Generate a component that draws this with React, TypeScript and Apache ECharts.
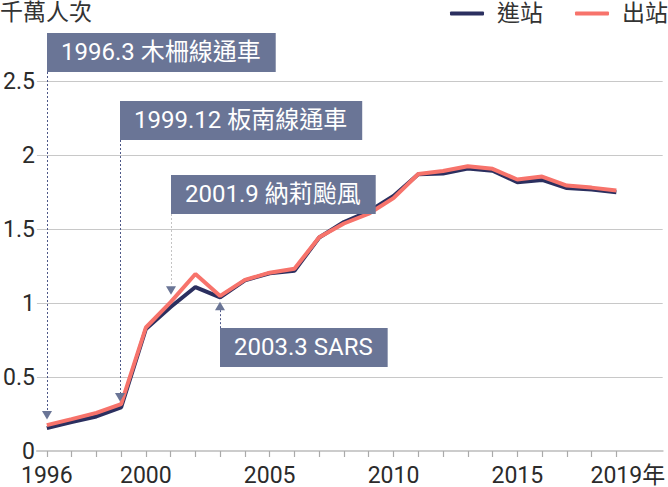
import React, { useEffect, useRef } from "react";
import * as echarts from "echarts";

const years = [1996, 1997, 1998, 1999, 2000, 2001, 2002, 2003, 2004, 2005, 2006, 2007, 2008, 2009, 2010, 2011, 2012, 2013, 2014, 2015, 2016, 2017, 2018, 2019];
const entries = [0.155, 0.196, 0.234, 0.295, 0.826, 0.975, 1.11, 1.04, 1.155, 1.203, 1.22, 1.445, 1.55, 1.622, 1.727, 1.873, 1.878, 1.912, 1.897, 1.82, 1.835, 1.78, 1.77, 1.752];
const exits = [0.175, 0.216, 0.258, 0.318, 0.836, 1.008, 1.198, 1.05, 1.158, 1.207, 1.234, 1.447, 1.54, 1.606, 1.712, 1.875, 1.895, 1.928, 1.91, 1.838, 1.858, 1.797, 1.783, 1.763];
const xLabelYears = [1996, 2000, 2005, 2010, 2015, 2019];
const yTicks = [0, 0.5, 1, 1.5, 2, 2.5];
const seriesNames = ["進站", "出站"];
const titleText = "千萬人次";

// annotation events: year, label, value the marker points at
const eventYears = [1996, 1999, 2001, 2003];
const eventLabels = ["1996.3 木柵線通車", "1999.12 板南線通車", "2001.9 納莉颱風", "2003.3 SARS"];
const eventValues = [0.214, 0.335, 1.058, 1.011];

// layout of annotation boxes (pixels)
const boxTops = [33, 101, 175, 328];
const boxDown = [true, true, true, false];
const dotColors = ["#4d5788", "#4d5788", "#c4c4c4", "#4d5788"];

const FONT = "Roboto, 'Noto Sans CJK TC', sans-serif";
const NAVY = "#2b2f5f";
const ORANGE = "#f7736b";
const BOX = "#6a7596";

export default function App() {
  const ref = useRef<HTMLDivElement>(null);
  useEffect(() => {
    if (!ref.current) return;
    const chart = echarts.init(ref.current, undefined, { renderer: "svg" });
    chart.setOption({
      animation: false,
      textStyle: { fontFamily: FONT },
      title: {
        text: titleText,
        left: 0,
        top: 1,
        padding: 0,
        textStyle: { fontSize: 23, fontWeight: "normal", color: "#333", fontFamily: FONT },
      },
      legend: {
        right: 0,
        top: 2,
        padding: 0,
        itemWidth: 34,
        itemHeight: 4,
        itemGap: 32,
        icon: "roundRect",
        textStyle: { fontSize: 23, color: "#333", padding: [0, 0, 0, 8], fontFamily: FONT },
        data: seriesNames,
      },
      grid: { left: 34, right: 0, top: 81.7, bottom: 32, containLabel: false },
      xAxis: {
        type: "value",
        min: 1995.6,
        max: 2020.87,
        splitLine: { show: false },
        axisLine: { show: true, lineStyle: { color: "#cccccc", width: 2 } },
        axisTick: { show: true, length: 6, lineStyle: { color: "#aaaaaa", width: 1.2 }, customValues: years },
        axisLabel: {
          customValues: xLabelYears,
          fontSize: 23,
          color: "#2b2b2b",
          margin: 13,
          fontFamily: FONT,
          formatter: (v: number) => (v === 2019 ? "{sp|}2019年" : String(v)),
          rich: { sp: { width: 23 } },
        },
      },
      yAxis: {
        type: "value",
        min: 0,
        max: 2.5,
        interval: 0.5,
        axisLine: { show: false },
        axisTick: { show: false },
        axisLabel: {
          fontSize: 23,
          color: "#2b2b2b",
          margin: 2,
          fontFamily: FONT,
          formatter: (v: number) => (yTicks.includes(v) ? String(v) : ""),
        },
        splitLine: { show: true, lineStyle: { color: "#c8c8c8", width: 1.2 } },
      },
      series: [
        {
          name: seriesNames[0],
          type: "line",
          symbol: "none",
          data: years.map((y, i) => [y, entries[i]]),
          lineStyle: { color: NAVY, width: 4 },
          itemStyle: { color: NAVY },
          z: 2,
        },
        {
          name: seriesNames[1],
          type: "line",
          symbol: "none",
          data: years.map((y, i) => [y, exits[i]]),
          lineStyle: { color: ORANGE, width: 4 },
          itemStyle: { color: ORANGE },
          z: 3,
        },
      ],
    });

    const graphics: any[] = [];
    eventYears.forEach((yr, i) => {
      const [px, py] = chart.convertToPixel({ gridIndex: 0 }, [yr, eventValues[i]]) as number[];
      const x = Math.round(px) - (i === 1 ? 1 : 0);
      const boxTop = boxTops[i];
      const boxH = 39;
      const down = boxDown[i];
      const triH = 8.5;
      const triW = 10;
      let tri: number[][];
      let lineY1: number, lineY2: number;
      if (down) {
        tri = [[x - triW / 2, py - triH], [x + triW / 2, py - triH], [x, py]];
        lineY1 = boxTop + boxH;
        lineY2 = py - triH;
      } else {
        tri = [[x - triW / 2, py + triH], [x + triW / 2, py + triH], [x, py]];
        lineY1 = py + triH;
        lineY2 = boxTop;
      }
      graphics.push({
        type: "line",
        shape: { x1: x + 0.5, y1: lineY1, x2: x + 0.5, y2: lineY2 },
        style: { stroke: dotColors[i], lineWidth: 1, lineDash: [2, 2] },
        z: 10,
      });
      graphics.push({
        type: "polygon",
        shape: { points: tri },
        style: { fill: BOX },
        z: 11,
      });
      graphics.push({
        type: "rect",
        shape: { x: x, y: boxTop, width: 0, height: boxH },
        style: { fill: "none" },
        z: 9,
      });
      graphics.push({
        type: "text",
        x: x,
        y: boxTop,
        style: {
          text: eventLabels[i],
          fontSize: 24,
          fontFamily: FONT,
          fill: "#ffffff",
          backgroundColor: BOX,
          padding: [7, 15, 8, 14],
          lineHeight: 24,
        },
        z: 12,
      });
    });
    chart.setOption({ graphic: graphics });

    return () => chart.dispose();
  }, []);
  return <div ref={ref} style={{ position: "absolute", left: 0, top: 0, width: 668, height: 487 }} />;
}
